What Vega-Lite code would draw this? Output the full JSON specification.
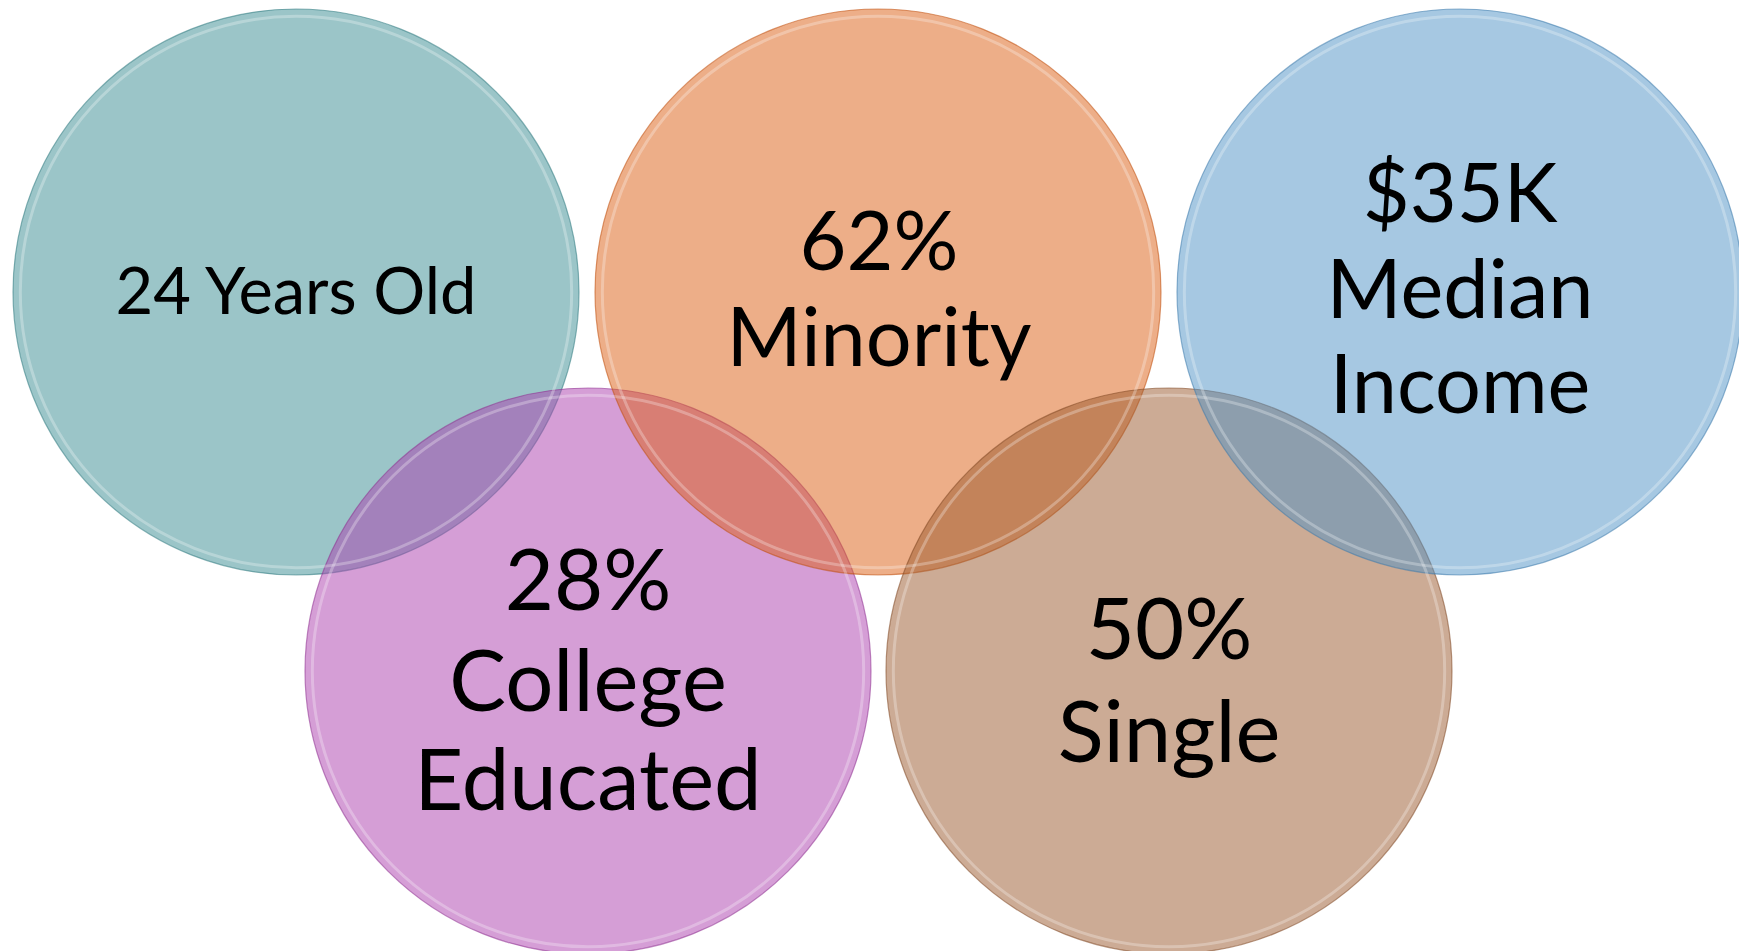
{
  "$schema": "https://vega.github.io/schema/vega-lite/v6.json",
  "width": 1739,
  "height": 951,
  "autosize": "none",
  "padding": 0,
  "background": "white",
  "view": {"stroke": null},
  "datasets": {
    "circles": [
      {"circle": "Age", "cx": 296, "cy": 292},
      {"circle": "Education", "cx": 588, "cy": 671},
      {"circle": "Minority", "cx": 878, "cy": 292},
      {"circle": "Single", "cx": 1169, "cy": 671},
      {"circle": "Income", "cx": 1460, "cy": 292}
    ],
    "labels": [
      {"circle": "Age", "text": "24 Years Old", "x": 296, "y": 314},
      {"circle": "Minority", "text": "62%", "x": 879, "y": 270},
      {"circle": "Minority", "text": "Minority", "x": 879, "y": 366},
      {"circle": "Income", "text": "$35K", "x": 1460, "y": 222},
      {"circle": "Income", "text": "Median", "x": 1460, "y": 318},
      {"circle": "Income", "text": "Income", "x": 1460, "y": 413},
      {"circle": "Education", "text": "28%", "x": 588, "y": 610},
      {"circle": "Education", "text": "College", "x": 588, "y": 711},
      {"circle": "Education", "text": "Educated", "x": 588, "y": 810},
      {"circle": "Single", "text": "50%", "x": 1169, "y": 659},
      {"circle": "Single", "text": "Single", "x": 1169, "y": 762}
    ]
  },
  "encoding": {
    "x": {"field": "x", "type": "quantitative", "scale": {"domain": [0, 1739], "nice": false, "zero": false}, "axis": null},
    "y": {"field": "y", "type": "quantitative", "scale": {"domain": [0, 951], "reverse": true, "nice": false, "zero": false}, "axis": null}
  },
  "layer": [
    {
      "data": {"name": "circles"},
      "mark": {"type": "point", "shape": "circle", "filled": true, "size": 320356, "fillOpacity": 0.5, "strokeWidth": 1.2, "strokeOpacity": 0.55, "clip": true},
      "encoding": {
        "x": {"field": "cx", "type": "quantitative"},
        "y": {"field": "cy", "type": "quantitative"},
        "fill": {"field": "circle", "type": "nominal", "legend": null,
          "scale": {"domain": ["Age", "Education", "Minority", "Single", "Income"], "range": ["#378b91", "#ab3dad", "#db5d11", "#99572b", "#4d91c5"]}},
        "stroke": {"field": "circle", "type": "nominal", "legend": null,
          "scale": {"domain": ["Age", "Education", "Minority", "Single", "Income"], "range": ["#2f7a80", "#8e2f90", "#c04e0c", "#7f4722", "#3c7aab"]}}
      }
    },
    {
      "data": {"name": "circles"},
      "mark": {"type": "point", "shape": "circle", "filled": false, "size": 304000, "stroke": "white", "strokeWidth": 3, "strokeOpacity": 0.4, "clip": true},
      "encoding": {
        "x": {"field": "cx", "type": "quantitative"},
        "y": {"field": "cy", "type": "quantitative"}
      }
    },
    {
      "data": {"name": "labels"},
      "transform": [{"filter": "datum.circle === 'Age'"}],
      "mark": {"type": "text", "font": "Lato", "fontSize": 65, "align": "center", "baseline": "alphabetic", "color": "black"},
      "encoding": {"text": {"field": "text", "type": "nominal"}}
    },
    {
      "data": {"name": "labels"},
      "transform": [{"filter": "datum.circle === 'Minority' || datum.circle === 'Income'"}],
      "mark": {"type": "text", "font": "Lato", "fontSize": 81, "align": "center", "baseline": "alphabetic", "color": "black"},
      "encoding": {"text": {"field": "text", "type": "nominal"}}
    },
    {
      "data": {"name": "labels"},
      "transform": [{"filter": "datum.circle === 'Education' || datum.circle === 'Single'"}],
      "mark": {"type": "text", "font": "Lato", "fontSize": 85, "align": "center", "baseline": "alphabetic", "color": "black"},
      "encoding": {"text": {"field": "text", "type": "nominal"}}
    }
  ]
}
